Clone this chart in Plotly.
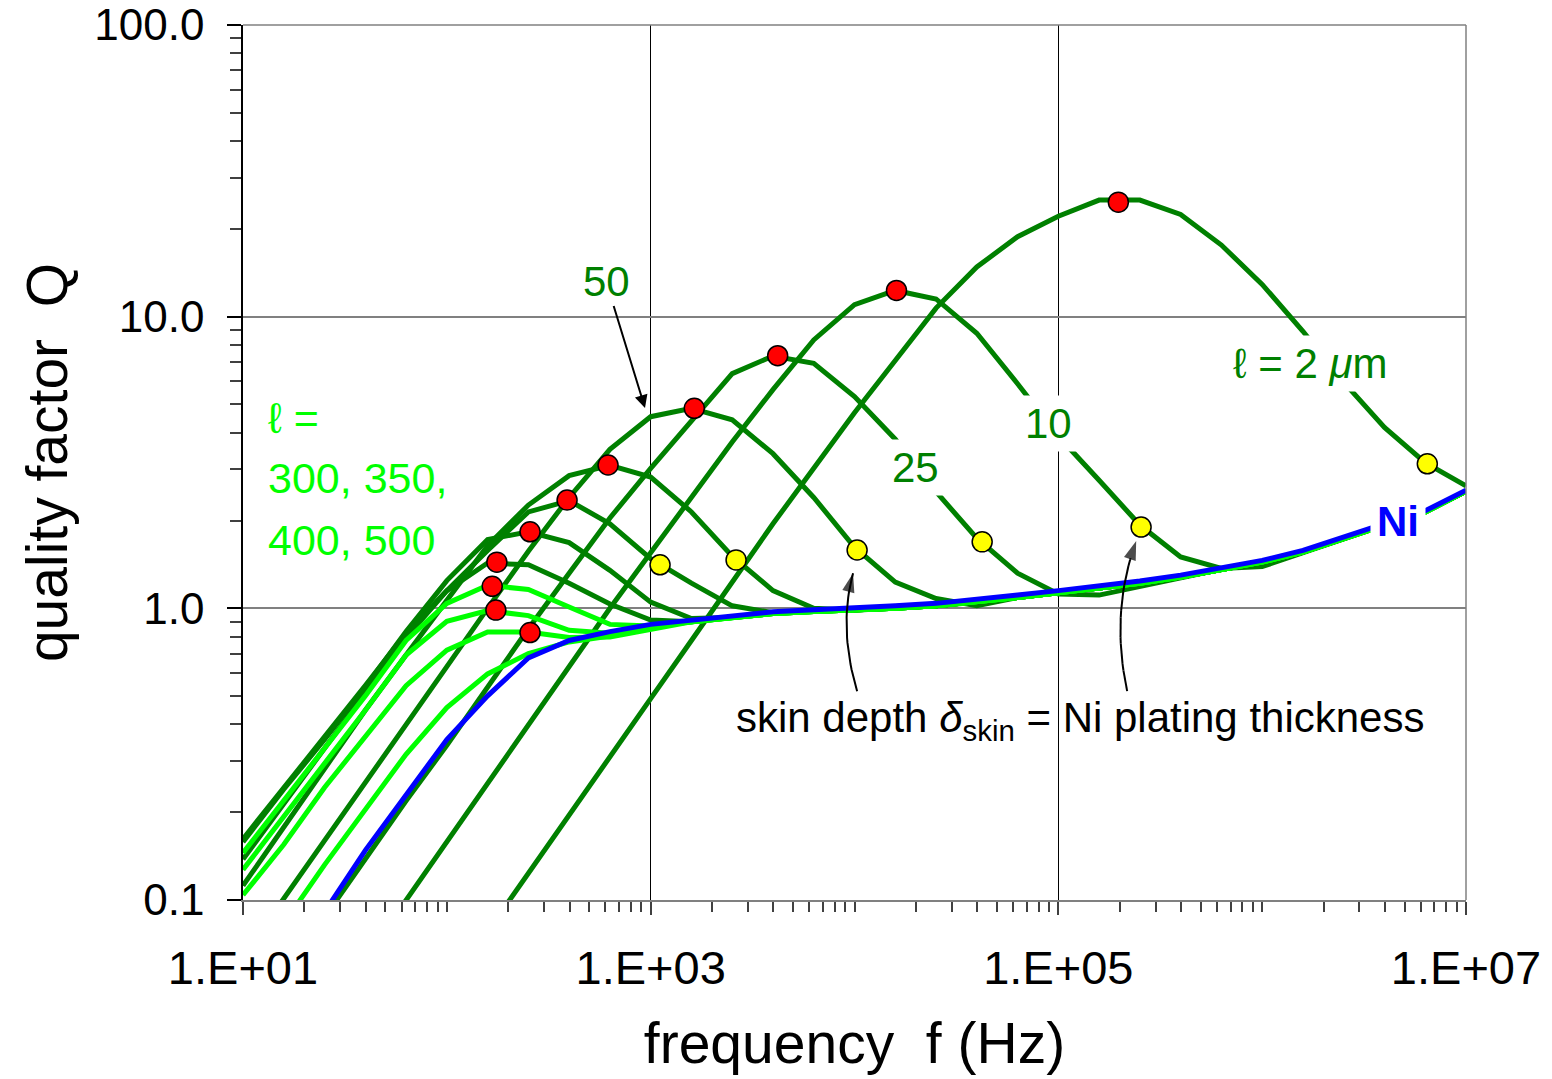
import numpy as np
import plotly.graph_objects as go

# ---------------------------------------------------------------------------
# Data: quality factor Q vs frequency for Ni-plated conductors of length l
# Frequencies are sampled at 5 points per decade.
# ---------------------------------------------------------------------------
FREQ_HZ = [10, 15.85, 25.12, 39.81, 63.10, 100, 158.5, 251.2, 398.1, 631.0,
           1000, 1585, 2512, 3981, 6310, 1.0e4, 1.585e4, 2.512e4, 3.981e4, 6.310e4,
           1.0e5, 1.585e5, 2.512e5, 3.981e5, 6.310e5, 1.0e6, 1.585e6, 2.512e6,
           3.981e6, 6.310e6, 1.0e7]

# bare Ni conductor, from FREQ_HZ[2] onwards
NI_START = 2
Q_NI = [0.091, 0.148, 0.229, 0.355, 0.501, 0.676, 0.776, 0.832, 0.881, 0.912,
        0.944, 0.973, 0.989, 1.00, 1.02, 1.04, 1.07, 1.11, 1.15, 1.19,
        1.24, 1.30, 1.38, 1.46, 1.58, 1.76, 1.95, 2.16, 2.54]

# common high-frequency branch of the plated curves, from FREQ_HZ[8] onwards
TAIL_START = 8
Q_TAIL = [0.765, 0.82, 0.87, 0.90, 0.93, 0.96, 0.975, 0.985, 1.0, 1.02,
          1.05, 1.09, 1.13, 1.17, 1.22, 1.28, 1.36, 1.44, 1.56, 1.74,
          1.93, 2.14, 2.52]

# individual branches: (first frequency index, Q values)
Q_L2 = (6, [0.078, 0.123, 0.195, 0.309, 0.490, 0.776, 1.23, 1.95, 3.02, 4.68,
            7.08, 10.7, 14.8, 18.8, 22.1, 25.1, 25.1, 22.4, 17.6, 12.9,
            8.91, 5.96, 4.17, 3.16, 2.63])
Q_L10 = (3, [0.063, 0.100, 0.158, 0.251, 0.398, 0.631, 1.0, 1.55, 2.40, 3.72,
             5.62, 8.32, 11.0, 12.3, 11.5, 8.77, 5.89, 3.89, 2.75, 1.93,
             1.50, 1.37, 1.39, 1.55])
Q_L25 = (1, [0.055, 0.087, 0.138, 0.219, 0.339, 0.537, 0.851, 1.32, 2.04, 3.02,
             4.42, 6.38, 7.33, 6.92, 5.32, 3.80, 2.51, 1.74, 1.32, 1.12,
             1.11, 1.19])
Q_L50 = (0, [0.064, 0.101, 0.158, 0.251, 0.398, 0.631, 1.0, 1.57, 2.40, 3.51,
             4.54, 4.85, 4.43, 3.39, 2.40, 1.62, 1.23, 1.08, 1.02])
Q_L100 = (0, [0.112, 0.178, 0.282, 0.447, 0.692, 1.07, 1.64, 2.26, 2.85, 3.09,
              2.82, 2.14, 1.51, 1.15, 1.0])
Q_L150 = (0, [0.138, 0.214, 0.331, 0.513, 0.794, 1.15, 1.58, 2.14, 2.34, 1.95,
              1.48, 1.22, 1.02, 0.966])
Q_L200 = (0, [0.158, 0.240, 0.355, 0.537, 0.832, 1.245, 1.72, 1.83, 1.68, 1.35,
              1.05, 0.923])
Q_L250 = (0, [0.162, 0.243, 0.359, 0.543, 0.822, 1.15, 1.43, 1.41, 1.22, 1.035,
              0.912])
Q_L300 = (0, [0.145, 0.219, 0.327, 0.501, 0.776, 1.04, 1.20, 1.16, 1.01, 0.881])
Q_L350 = (0, [0.127, 0.193, 0.292, 0.447, 0.692, 0.902, 0.982, 0.944, 0.841, 0.822])
Q_L400 = (0, [0.104, 0.155, 0.243, 0.363, 0.543, 0.719, 0.830, 0.830, 0.794, 0.798,
              0.85])
Q_L500 = (0, [0.054, 0.083, 0.132, 0.204, 0.316, 0.457, 0.596, 0.700, 0.767, 0.804])

DARK_CURVES = [("l = 2 um", Q_L2), ("l = 10 um", Q_L10), ("l = 25 um", Q_L25),
               ("l = 50 um", Q_L50), ("l = 100 um", Q_L100), ("l = 150 um", Q_L150),
               ("l = 200 um", Q_L200), ("l = 250 um", Q_L250)]
LIGHT_CURVES = [("l = 300 um", Q_L300), ("l = 350 um", Q_L350),
                ("l = 400 um", Q_L400), ("l = 500 um", Q_L500)]

# maximum of each curve
PEAK_F = [1.97e5, 1.607e4, 4199, 1637, 618, 389, 256, 176, 167, 174, 256]
PEAK_Q = [24.7, 12.3, 7.35, 4.85, 3.10, 2.35, 1.83, 1.44, 1.19, 0.986, 0.826]

# skin depth equal to the Ni plating thickness
SKIN_F = [6.46e6, 2.547e5, 4.23e4, 1.03e4, 2624, 1112]
SKIN_Q = [3.13, 1.90, 1.69, 1.585, 1.466, 1.41]

X_TICKS = [10, 1e3, 1e5, 1e7]
X_TICK_TEXT = ["1.E+01", "1.E+03", "1.E+05", "1.E+07"]
Y_TICKS = [0.1, 1, 10, 100]
Y_TICK_TEXT = ["0.1", "1.0", "10.0", "100.0"]

DARK_GREEN = "#008000"
LIGHT_GREEN = "#00FF00"
NI_BLUE = "#0000FF"
FONT = "Arial, 'Liberation Sans', sans-serif"


def full_curve(branch):
    start, own = branch
    stop = start + len(own)
    q = list(own) + Q_TAIL[stop - TAIL_START:] if stop < len(FREQ_HZ) else list(own)
    return FREQ_HZ[start:start + len(q)], q


fig = go.Figure()

for name, branch in DARK_CURVES:
    f, q = full_curve(branch)
    fig.add_trace(go.Scatter(x=f, y=q, mode="lines", name=name,
                             line=dict(color=DARK_GREEN, width=5)))
for name, branch in LIGHT_CURVES:
    f, q = full_curve(branch)
    fig.add_trace(go.Scatter(x=f, y=q, mode="lines", name=name,
                             line=dict(color=LIGHT_GREEN, width=5)))

fig.add_trace(go.Scatter(x=FREQ_HZ[NI_START:], y=Q_NI, mode="lines", name="Ni",
                         line=dict(color=NI_BLUE, width=5)))


# curved pointers from the skin-depth caption (quadratic Bezier in log space),
# finished with an arrow marker that follows the direction of the path
def bezier(p0, p1, p2, n=24):
    t = np.linspace(0, 1, n)
    pts = [np.log10(p) for p in (p0, p1, p2)]
    x = (1 - t) ** 2 * pts[0][0] + 2 * (1 - t) * t * pts[1][0] + t ** 2 * pts[2][0]
    y = (1 - t) ** 2 * pts[0][1] + 2 * (1 - t) * t * pts[1][1] + t ** 2 * pts[2][1]
    return 10 ** x, 10 ** y


POINTERS = [((1.03e4, 0.52), (8.32e3, 0.857), (9.84e3, 1.32)),
            ((2.176e5, 0.52), (1.795e5, 0.971), (2.41e5, 1.70))]
for p0, p1, p2 in POINTERS:
    bx, by = bezier(p0, p1, p2)
    sizes = [0] * (len(bx) - 1) + [20]
    fig.add_trace(go.Scatter(x=bx, y=by, mode="lines+markers", showlegend=False,
                             line=dict(color="black", width=2), hoverinfo="skip",
                             marker=dict(symbol="arrow", size=sizes, color="black",
                                         angleref="previous", line=dict(width=0))))

fig.add_trace(go.Scatter(x=PEAK_F, y=PEAK_Q, mode="markers", name="maximum Q",
                         marker=dict(size=20, color="#FF0000",
                                     line=dict(color="black", width=1.5))))
fig.add_trace(go.Scatter(x=SKIN_F, y=SKIN_Q, mode="markers", name="skin depth",
                         marker=dict(size=20, color="#FFFF00",
                                     line=dict(color="black", width=1.5))))

lg = np.log10


def label(text, f, q, color, size=42, bg=None, anchor="center", bold=False, pad=1):
    if bold:
        text = "<b>" + text + "</b>"
    fig.add_annotation(x=lg(f), y=lg(q), xref="x", yref="y", text=text,
                       showarrow=False, xanchor=anchor, yanchor="middle",
                       font=dict(family=FONT, size=size, color=color),
                       bgcolor=bg, borderpad=pad)


# "50" with its arrow pointing at the l = 50 curve
fig.add_annotation(x=lg(938), y=lg(4.86), xref="x", yref="y", ax=-39, ay=-127,
                   text="50", showarrow=True, arrowhead=2, arrowsize=1.3,
                   arrowwidth=2, arrowcolor="black",
                   font=dict(family=FONT, size=42, color=DARK_GREEN))

label("25", 1.99e4, 3.05, DARK_GREEN, bg="white", pad=4)
label("10", 8.9e4, 4.3, DARK_GREEN, bg="white", pad=4)
label("\u2113 = 2 <i>\u03bc</i>m", 1.72e6, 6.9, DARK_GREEN, bg="white", pad=4)
label("Ni", 4.65e6, 1.98, NI_BLUE, bold=True, bg="white", pad=6)
label("\u2113 =", 13.0, 4.5, LIGHT_GREEN, anchor="left", size=43)
label("300, 350,", 13.0, 2.8, LIGHT_GREEN, anchor="left", size=43)
label("400, 500", 13.0, 1.715, LIGHT_GREEN, anchor="left", size=43)
label("skin depth <i>\u03b4</i><sub>skin</sub> = Ni plating thickness",
      1.28e5, 0.414, "black", size=42)

minor_x = [k * 10 ** d for d in range(1, 7) for k in range(2, 10)] + [1e2, 1e4, 1e6]
minor_y = [k * 10 ** d for d in range(-1, 2) for k in range(2, 10)]

fig.update_xaxes(
    type="log", range=[1, 7], tickmode="array", tickvals=X_TICKS, ticktext=X_TICK_TEXT,
    ticks="outside", ticklen=13, tickwidth=1.5, tickcolor="#404040",
    showline=True, linecolor="#808080", linewidth=2,
    showgrid=True, gridcolor="#000000", gridwidth=1, zeroline=False,
    tickfont=dict(family=FONT, size=47, color="black"), ticklabelstandoff=13,
    ticklabeloverflow="allow",
    minor=dict(tickmode="array", tickvals=minor_x, ticks="outside", ticklen=10,
               tickwidth=1.5, tickcolor="#404040", showgrid=False),
    title=dict(text="frequency \u00a0f (Hz)", font=dict(family=FONT, size=57, color="black"),
               standoff=30),
)
fig.update_yaxes(
    type="log", range=[-1, 2], tickmode="array", tickvals=Y_TICKS, ticktext=Y_TICK_TEXT,
    ticks="outside", ticklen=14, tickwidth=1.5, tickcolor="black",
    showline=True, linecolor="black", linewidth=1.5,
    showgrid=True, gridcolor="#808080", gridwidth=1.5, zeroline=False,
    tickfont=dict(family=FONT, size=44, color="black"), ticklabelstandoff=14,
    ticklabeloverflow="allow",
    minor=dict(tickmode="array", tickvals=minor_y, ticks="outside", ticklen=11,
               tickwidth=1.5, tickcolor="#404040", showgrid=False),
    title=dict(text="quality factor \u00a0Q", font=dict(family=FONT, size=57, color="black"),
               standoff=8),
)

# top and right frame
fig.add_shape(type="line", xref="paper", yref="paper", x0=0, x1=1, y0=1, y1=1,
              line=dict(color="#808080", width=1.5))
fig.add_shape(type="line", xref="paper", yref="paper", x0=1, x1=1, y0=0, y1=1,
              line=dict(color="#808080", width=1.5))

fig.update_layout(
    width=1552, height=1079,
    margin=dict(l=243, r=86, t=25, b=179, autoexpand=False),
    plot_bgcolor="white", paper_bgcolor="white",
    showlegend=False, hovermode=False,
    font=dict(family=FONT, color="black"),
)

fig.write_html("out.html")
